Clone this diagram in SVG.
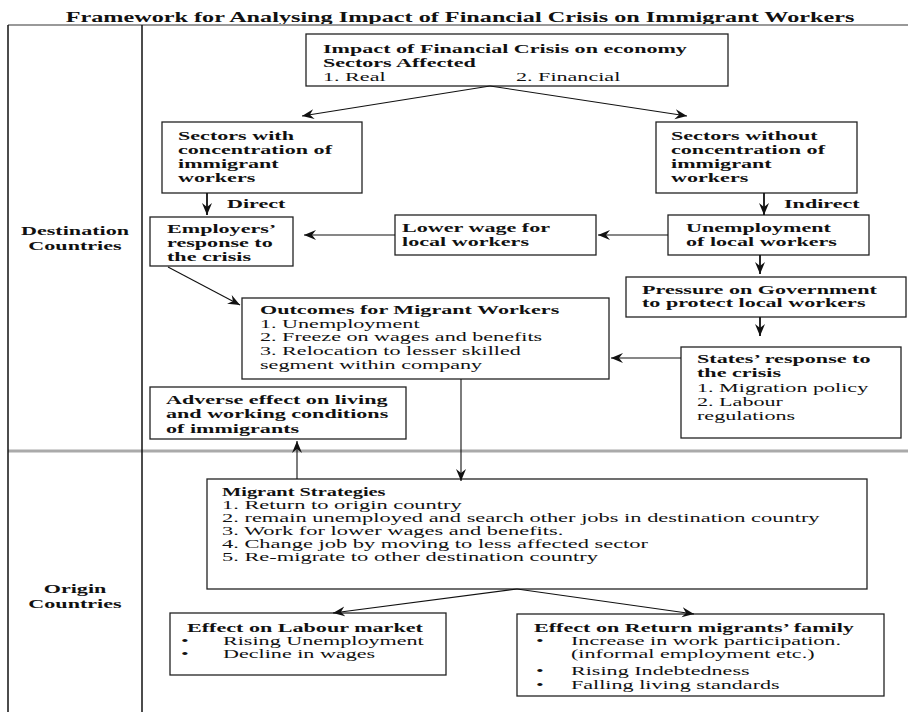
<svg xmlns="http://www.w3.org/2000/svg" width="908" height="712" viewBox="0 0 908 712">
<defs>
<style>
.bx{fill:#fff;stroke:#222;stroke-width:1.3}
.t{font-family:"Liberation Serif","Times New Roman",serif;font-size:13px;fill:#111}
.b{font-weight:bold}
.c{stroke:#111;stroke-width:1.1;fill:none;marker-end:url(#arr)}
.v{stroke:#111;stroke-width:1.8;fill:none;marker-end:url(#arr)}
.frame{stroke:#111;stroke-width:1.5}
</style>
<marker id="arr" markerUnits="userSpaceOnUse" markerWidth="13" markerHeight="11" refX="12" refY="5" orient="auto">
<path d="M0,0 L12,5 L0,10 L4,5 z" fill="#111"/>
</marker>
</defs>
<rect width="908" height="712" fill="#fff"/>
<text class="t b" text-anchor="middle" transform="translate(460,22) scale(1.67,1)" style="font-size:14.5px">Framework for Analysing Impact of Financial Crisis on Immigrant Workers</text>
<g id="frame">
<line x1="8" y1="25" x2="908" y2="25" stroke="#999" stroke-width="2"/>
<line x1="8" y1="451" x2="908" y2="451" stroke="#aaa" stroke-width="3"/>
<line class="frame" x1="8" y1="25" x2="8" y2="712"/>
<line class="frame" x1="142" y1="25" x2="142" y2="712"/>
</g>
<g id="lbl-destination">
<text class="t b" text-anchor="middle" transform="translate(75,235) scale(1.7,1)">Destination</text>
<text class="t b" text-anchor="middle" transform="translate(75,250) scale(1.7,1)">Countries</text>
</g>
<g id="lbl-origin">
<text class="t b" text-anchor="middle" transform="translate(75,593) scale(1.7,1)">Origin</text>
<text class="t b" text-anchor="middle" transform="translate(75,608) scale(1.7,1)">Countries</text>
</g>
<g id="n-impact">
<rect class="bx" x="306" y="34" width="422" height="52"/>
<text class="t b" transform="translate(323,53) scale(1.7,1)"><tspan x="0">Impact of Financial Crisis on economy</tspan><tspan x="0" dy="14">Sectors Affected</tspan></text>
<text class="t" transform="translate(323,81) scale(1.7,1)">1. Real</text>
<text class="t" transform="translate(516,81) scale(1.7,1)">2. Financial</text>
</g>
<g id="n-with">
<rect class="bx" x="162" y="122" width="200" height="71"/>
<text class="t b" transform="translate(178,140) scale(1.7,1)"><tspan x="0">Sectors with</tspan><tspan x="0" dy="14">concentration of</tspan><tspan x="0" dy="14">immigrant</tspan><tspan x="0" dy="14">workers</tspan></text>
</g>
<g id="n-without">
<rect class="bx" x="656" y="122" width="201" height="71"/>
<text class="t b" transform="translate(671,140) scale(1.7,1)"><tspan x="0">Sectors without</tspan><tspan x="0" dy="14">concentration of</tspan><tspan x="0" dy="14">immigrant</tspan><tspan x="0" dy="14">workers</tspan></text>
</g>
<g id="n-employers">
<rect class="bx" x="150" y="217" width="143" height="49"/>
<text class="t b" transform="translate(167,233) scale(1.7,1)"><tspan x="0">Employers’</tspan><tspan x="0" dy="14">response to</tspan><tspan x="0" dy="14">the crisis</tspan></text>
</g>
<g id="n-lowerwage">
<rect class="bx" x="395" y="215" width="201" height="40"/>
<text class="t b" transform="translate(402,232) scale(1.7,1)"><tspan x="0">Lower wage for</tspan><tspan x="0" dy="14">local workers</tspan></text>
</g>
<g id="n-unemp">
<rect class="bx" x="668" y="215" width="201" height="40"/>
<text class="t b" transform="translate(686,232) scale(1.7,1)"><tspan x="0">Unemployment</tspan><tspan x="0" dy="14">of local workers</tspan></text>
</g>
<g id="n-pressure">
<rect class="bx" x="626" y="277" width="280" height="40"/>
<text class="t b" transform="translate(642,294) scale(1.7,1)"><tspan x="0">Pressure on Government</tspan><tspan x="0" dy="13">to protect local workers</tspan></text>
</g>
<g id="n-states">
<rect class="bx" x="681" y="347" width="220" height="91"/>
<text class="t b" transform="translate(697,363) scale(1.7,1)"><tspan x="0">States’ response to</tspan><tspan x="0" dy="14">the crisis</tspan></text>
<text class="t" transform="translate(697,392) scale(1.7,1)"><tspan x="0">1. Migration policy</tspan><tspan x="0" dy="14">2. Labour</tspan><tspan x="0" dy="14">regulations</tspan></text>
</g>
<g id="n-outcomes">
<rect class="bx" x="242" y="298" width="367" height="81"/>
<text class="t b" transform="translate(260,314) scale(1.7,1)">Outcomes for Migrant Workers</text>
<text class="t" transform="translate(260,327.5) scale(1.7,1)"><tspan x="0">1. Unemployment</tspan><tspan x="0" dy="13.8">2. Freeze on wages and benefits</tspan><tspan x="0" dy="13.8">3. Relocation to lesser skilled</tspan><tspan x="0" dy="13.8">segment within company</tspan></text>
</g>
<g id="n-adverse">
<rect class="bx" x="150" y="387" width="256" height="52"/>
<text class="t b" transform="translate(166,404) scale(1.7,1)"><tspan x="0">Adverse effect on living</tspan><tspan x="0" dy="14.5">and working conditions</tspan><tspan x="0" dy="14.5">of immigrants</tspan></text>
</g>
<g id="n-strategies">
<rect class="bx" x="207" y="479" width="660" height="110"/>
<text class="t b" transform="translate(222,496) scale(1.7,1)" style="font-size:12px">Migrant Strategies</text>
<text class="t" transform="translate(222,509) scale(1.95,1)" style="font-size:11.5px"><tspan x="0">1. Return to origin country</tspan><tspan x="0" dy="13">2. remain unemployed and search other jobs in destination country</tspan><tspan x="0" dy="13">3. Work for lower wages and benefits.</tspan><tspan x="0" dy="13">4. Change job by moving to less affected sector</tspan><tspan x="0" dy="13">5. Re-migrate to other destination country</tspan></text>
</g>
<g id="n-labour">
<rect class="bx" x="170" y="613" width="276" height="62"/>
<text class="t b" transform="translate(187,631.5) scale(1.7,1)">Effect on Labour market</text>
<text class="t" transform="translate(181,645) scale(1.7,1)"><tspan x="0">•</tspan><tspan x="0" dy="13">•</tspan></text>
<text class="t" transform="translate(223,645) scale(1.7,1)"><tspan x="0">Rising Unemployment</tspan><tspan x="0" dy="13">Decline in wages</tspan></text>
</g>
<g id="n-family">
<rect class="bx" x="517" y="614" width="367" height="82"/>
<text class="t b" transform="translate(534,631.5) scale(1.7,1)">Effect on Return migrants’ family</text>
<text class="t" transform="translate(536,645) scale(1.7,1)">•</text>
<text class="t" transform="translate(536,675) scale(1.7,1)"><tspan x="0">•</tspan><tspan x="0" dy="14">•</tspan></text>
<text class="t" transform="translate(571,645) scale(1.7,1)"><tspan x="0">Increase in work participation.</tspan><tspan x="0" dy="13">(informal employment etc.)</tspan></text>
<text class="t" transform="translate(571,675) scale(1.7,1)"><tspan x="0">Rising Indebtedness</tspan><tspan x="0" dy="14">Falling living standards</tspan></text>
</g>
<g id="connectors">
<path class="c" d="M490,86 L302,116"/>
<path class="c" d="M490,86 L687,116"/>
<path class="v" d="M207,193 L207,215"/>
<path class="v" d="M764,193 L764,215"/>
<path class="c" d="M395,235 L304,235"/>
<path class="c" d="M668,235 L598,235"/>
<path class="c" d="M168,267 L240,305"/>
<path class="v" d="M760,255 L760,274"/>
<path class="v" d="M760,317 L760,336"/>
<path class="c" d="M681,358 L611,358"/>
<path class="c" d="M461,379 L461,481"/>
<path class="c" d="M297,479 L297,441"/>
<path class="c" d="M517,589 L333,613"/>
<path class="c" d="M517,589 L694,614"/>
</g>
<text class="t b" transform="translate(227,208) scale(1.7,1)">Direct</text>
<text class="t b" transform="translate(784,208) scale(1.7,1)">Indirect</text>
</svg>
